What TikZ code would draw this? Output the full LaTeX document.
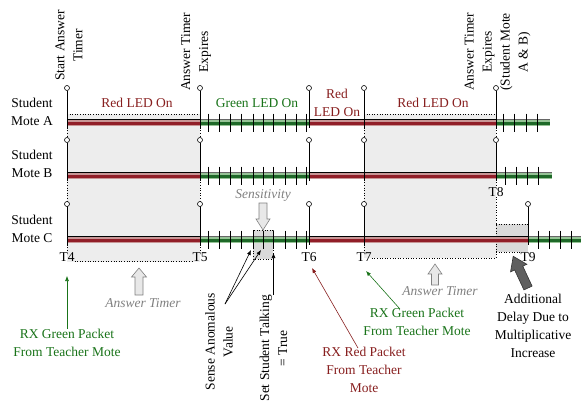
\documentclass[tikz,border=0pt]{standalone}
\usepackage{fontspec}
\setmainfont{Liberation Serif}
\usetikzlibrary{arrows.meta}
\definecolor{ledred}{RGB}{135,30,30}
\definecolor{ledgreen}{RGB}{25,115,25}
\definecolor{boxfill}{RGB}{237,237,237}
\definecolor{boxfilltwo}{RGB}{218,218,218}
\definecolor{bandredhi}{RGB}{200,150,150}
\definecolor{bandredlo}{RGB}{145,30,40}
\definecolor{bandgreenhi}{RGB}{150,195,150}
\definecolor{bandgreenlo}{RGB}{30,105,40}
\definecolor{notegray}{RGB}{128,128,128}
\definecolor{arrowfill}{RGB}{232,232,232}
\definecolor{arrowdark}{RGB}{95,95,95}

\newcommand\RedBand[3]{%
  \fill[bandredhi] (#1,#3-3) rectangle (#2,#3+3);
  \fill[bandredlo] (#1,#3-1) rectangle (#2,#3+2);
  \draw[line width=0.7pt] (#1,#3-3) -- (#2,#3-3);}
\newcommand\GreenBand[3]{%
  \fill[bandgreenhi] (#1,#3-3) rectangle (#2,#3+3);
  \fill[bandgreenlo] (#1,#3-1) rectangle (#2,#3+2);
  \draw[line width=0.5pt,black!60] (#1,#3-3) -- (#2,#3-3);}
\newcommand\Ticks[2]{\foreach \tx in {#1} \draw[tickln] (\tx,#2-9) -- (\tx,#2+9);}
% #1 style, #2 #3 tail, #4 rotation, #5 length, #6 head length, #7 shaft half, #8 head half
\newcommand\BArrow[8]{%
  \begin{scope}[shift={(#2,#3)},rotate=#4]
  \draw[#1] (-#7,0) -- (-#7,-#5+#6) -- (-#8,-#5+#6) -- (0,-#5) -- (#8,-#5+#6) -- (#7,-#5+#6) -- (#7,0) -- cycle;
  \end{scope}}

\begin{document}
\begin{tikzpicture}[x=1pt,y=-1pt,
  font=\fontsize{13.5}{18}\selectfont,
  evt/.style={circle,draw,fill=white,inner sep=0pt,minimum size=5pt,line width=0.6pt},
  vsolid/.style={line width=0.7pt},
  vdot/.style={dotted,line width=0.6pt},
  tickln/.style={line width=0.8pt},
  lbl/.style={align=center,inner sep=0pt},
  toplbl/.style={lbl,rotate=90,anchor=west},
  note/.style={lbl,text=notegray,font=\fontsize{13.5}{18}\selectfont\itshape},
  ptr/.style={line width=0.6pt,-{Latex[length=5pt,width=4pt]}},
  lightarrow/.style={draw=notegray,fill=arrowfill,line width=0.6pt},
  darkarrow/.style={draw=black!80,fill=arrowdark,line width=0.6pt},
]
\useasboundingbox (0,0) rectangle (581,407);

% shaded regions
\fill[boxfill] (67,114) rectangle (200,262);
\fill[boxfill] (364,114) rectangle (496,258);
\fill[boxfilltwo] (496,224) rectangle (528,252);
\fill[boxfilltwo] (253,230) rectangle (273,259);

% time labels
\node[lbl] (T4) at (67,257) {T4};
\node[lbl] (T5) at (200,257) {T5};
\node[lbl] (T6) at (309,257) {T6};
\node[lbl] (T7) at (364,257) {T7};
\node[lbl] (T8) at (496,192) {T8};
\node[lbl] (T9) at (528,257) {T9};

% dotted guides
\draw[vdot] (67,114) -- (200,114);
\draw[vdot] (364,114) -- (496,114);
\draw[vdot] (67,122.5) -- (T4.north);
\draw[vdot] (200,122.5) -- (T5.north);
\draw[vdot] (364,122.5) -- (T7.north);
\draw[vdot] (496,122.5) -- (T8.north);
\draw[vdot] (T8.south) -- (496,258);
\draw[vdot] ([yshift=-4pt]T4.east) -- ([yshift=-4pt]T5.west);
\draw[vdot] ([yshift=-1pt]T7.east) -- (496,258);
\draw[vdot] (496,224) -- (528,224);
\draw[vdot] (496,252) -- (521,252);

% bands
\RedBand{67}{200}{122.5}
\GreenBand{200}{309}{122.5}
\RedBand{309}{496}{122.5}
\GreenBand{496}{550}{122.5}
\RedBand{67}{200}{175.5}
\GreenBand{200}{309}{175.5}
\RedBand{309}{496}{175.5}
\GreenBand{496}{552}{175.5}
\RedBand{67}{200}{239.5}
\GreenBand{200}{309}{239.5}
\RedBand{309}{528}{239.5}
\GreenBand{528}{581}{239.5}

\Ticks{208,219,230,241,253,263,273,285,296,306}{122.5}
\Ticks{503,514,526,537}{122.5}
\Ticks{208,219,230,241,253,263,273,285,296,306}{175.5}
\Ticks{505,516,527,538}{175.5}
\Ticks{208,219,230,241,253,263,273,285,296,306}{239.5}
\Ticks{538,549,560,571}{239.5}

% sensitivity box
\draw[vdot] (253,230) rectangle (273,259);
\draw[vsolid] (263,231) -- (263,247);

% event markers
\foreach \x in {67,200,309,364,496} {
  \node[evt] (eA\x) at (\x,88) {};
  \draw[vsolid] (eA\x) -- (\x,127.5);
  \node[evt] (eB\x) at (\x,140) {};
  \draw[vsolid] (eB\x) -- (\x,180.5);
}
\foreach \x in {67,200,309,364,528} {
  \node[evt] (eC\x) at (\x,204) {};
  \draw[vsolid] (eC\x) -- (\x,244.5);
}

% mote labels
\node[lbl] (moteA) at (32,112) {Student\\Mote A};
\node[lbl] (moteB) at (32,164) {Student\\Mote B};
\node[lbl] (moteC) at (32,229) {Student\\Mote C};

% LED labels
\node[lbl,text=ledred] (led1) at (137,103) {Red LED On};
\node[lbl,text=ledgreen] (led2) at (257,103) {Green LED On};
\node[lbl,text=ledred] (led3) at (337,102.5) {Red\\LED On};
\node[lbl,text=ledred] (led4) at (433,103) {Red LED On};

% top labels
\node[toplbl] (start) at (69,81) {Start Answer\\Timer};
\node[toplbl] (exp1) at (196,91) {Answer Timer\\Expires};
\node[toplbl] (exp2) at (497.5,91) {Answer Timer\\Expires\\(Student Mote\\A \& B)};

% notes
\node[note] (sens) at (263,195) {Sensitivity};
\BArrow{lightarrow}{263}{203}{180}{27}{11}{4}{7}
\node[note] (at1) at (143,303) {Answer Timer};
\BArrow{lightarrow}{139}{295}{0}{27}{9}{4}{7.5}
\node[note] (at2) at (440,291) {Answer Timer};
\BArrow{lightarrow}{435}{285}{0}{21}{10}{3.5}{7}
\BArrow{darkarrow}{528}{288}{25}{35}{13}{4.5}{9}

% annotations with pointers
\node[lbl,rotate=90,anchor=east] (sense) at (219,293) {Sense Anomalous\\Value};
\coordinate (sensefoot) at (225,304);
\coordinate (anomA) at (251,250);
\coordinate (anomB) at (261,250);
\draw[ptr] (sensefoot) -- (anomA);
\draw[ptr] (sensefoot) -- (anomB);

\node[lbl,rotate=90,anchor=east] (talk) at (273.5,295) {Set Student Talking\\= True};
\coordinate (talktip) at (273.5,253);
\draw[ptr] (talk.east) -- (talktip);

\node[lbl,text=ledgreen] (rxg1) at (67,343) {RX Green Packet\\From Teacher Mote};
\coordinate (g1tip) at (67,276);
\draw[ptr,draw=ledgreen] (rxg1.north) -- (g1tip);

\node[lbl,text=ledred] (rxr) at (364,370) {RX Red Packet\\From Teacher\\Mote};
\coordinate (rtip) at (312,268);
\draw[ptr,draw=ledred] ([xshift=-6pt,yshift=-1pt]rxr.north) -- (rtip);

\node[lbl,text=ledgreen] (rxg2) at (417,322) {RX Green Packet\\From Teacher Mote};
\coordinate (g2tip) at (366,271);
\draw[ptr,draw=ledgreen] ([xshift=-17pt,yshift=-1pt]rxg2.north) -- (g2tip);

\node[lbl] (delay) at (533,326) {Additional\\Delay Due to\\Multiplicative\\Increase};
\end{tikzpicture}
\end{document}
